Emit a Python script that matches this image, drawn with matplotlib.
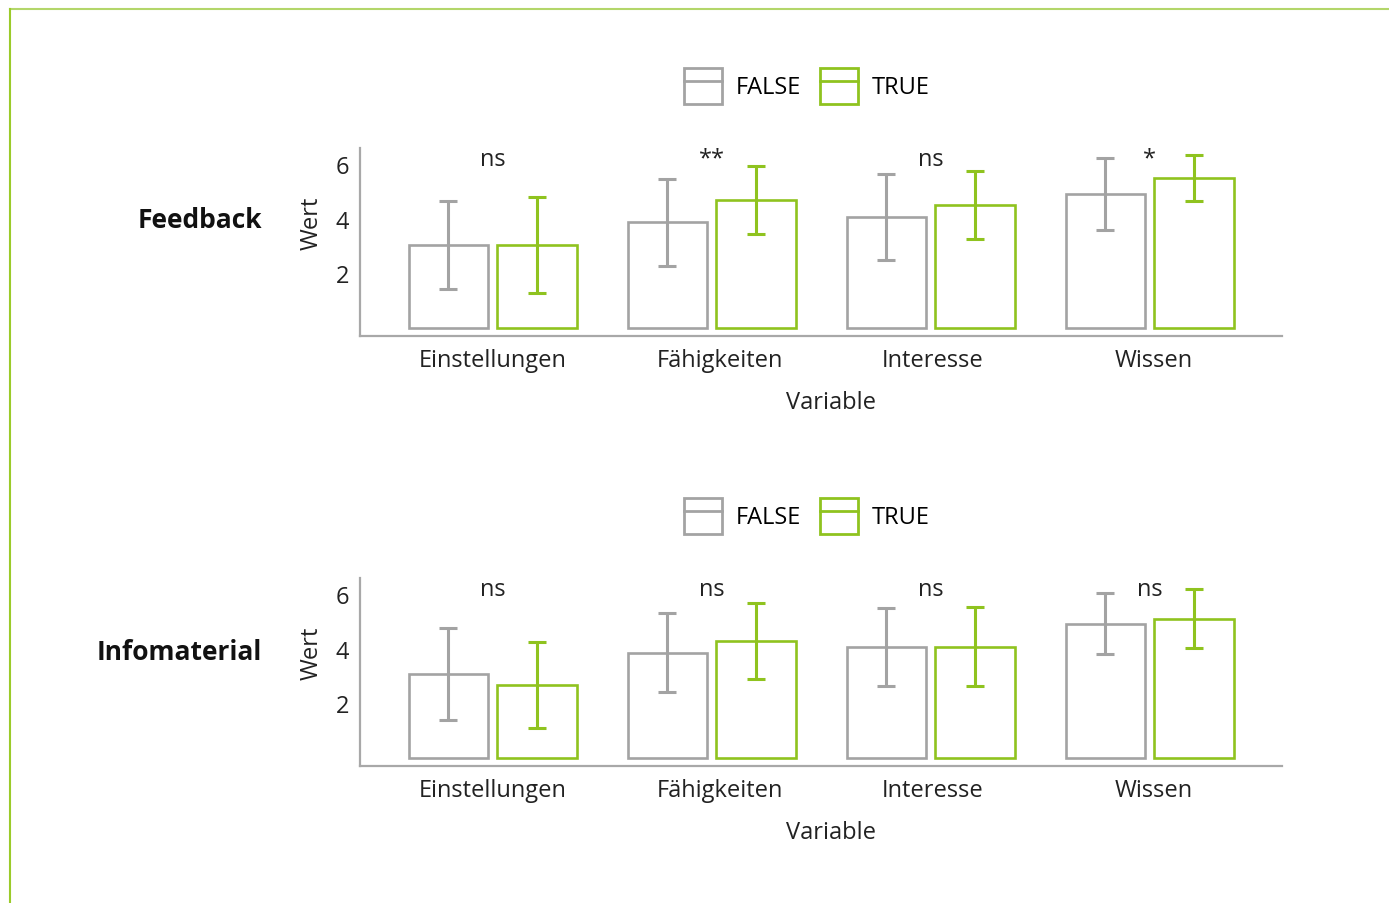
import numpy as np
import matplotlib
matplotlib.use("Agg")
import matplotlib.pyplot as plt
import matplotlib.transforms as mtransforms
from matplotlib.patches import Patch
from matplotlib.lines import Line2D
from matplotlib.legend_handler import HandlerTuple

plt.rcParams['font.family'] = ['Open Sans', 'DejaVu Sans']

# --- data -------------------------------------------------------
variables = ["Einstellungen", "Fähigkeiten", "Interesse", "Wissen"]
groups = ["FALSE", "TRUE"]

fb_false = [3.05, 3.87, 4.07, 4.92]
fb_false_err = [1.62, 1.60, 1.58, 1.33]
fb_true = [3.05, 4.70, 4.51, 5.50]
fb_true_err = [1.76, 1.25, 1.25, 0.83]
fb_sig = ["ns", "**", "ns", "*"]

im_false = [3.08, 3.85, 4.07, 4.92]
im_false_err = [1.70, 1.45, 1.43, 1.12]
im_true = [2.68, 4.29, 4.07, 5.10]
im_true_err = [1.58, 1.41, 1.45, 1.08]
im_sig = ["ns", "ns", "ns", "ns"]

panels = [
    ("Feedback", fb_false, fb_false_err, fb_true, fb_true_err, fb_sig),
    ("Infomaterial", im_false, im_false_err, im_true, im_true_err, im_sig),
]

gray = "#a3a3a3"
green = "#8fc31f"
colors = [gray, green]

W, H = 1389, 904
fig = plt.figure(figsize=(W / 100, H / 100), dpi=100)

# frame lines (green border, top and left)
fig.add_artist(Line2D([10 / W, 1], [1 - 10 / H, 1 - 10 / H], color="#b3d66a", lw=1.5))
fig.add_artist(Line2D([10 / W, 10 / W], [0, 1 - 10 / H], color="#9bcb2a", lw=1.5))

ax_boxes = [(149, 337), (579, 767)]
legend_y = [87, 517]
label_y = [221, 653]
# small horizontal nudges of the category labels (px), as in the original
label_shift = [0, 8, 2, 4]

x = np.arange(len(variables))
bw = 0.365
off = 0.203

for i, (name, f, fe, t, te, sig) in enumerate(panels):
    top, bot = ax_boxes[i]
    ax = fig.add_axes([360 / W, 1 - bot / H, 922 / W, (bot - top) / H])

    for vals, errs, c, sgn in [(f, fe, gray, -1), (t, te, green, 1)]:
        ax.bar(x + sgn * off, vals, width=bw, facecolor="white",
               edgecolor=c, linewidth=1.9)
        ax.errorbar(x + sgn * off, vals, yerr=errs, fmt="none", ecolor=c,
                    elinewidth=2.2, capsize=6.5, capthick=2.2)

    for xi, s in zip(x, sig):
        ax.text(xi, 6.2, s, ha="center", va="center", fontsize=17, color="#222222")

    ax.set_xlim(-0.607, 3.603)
    ax.set_ylim(-0.3, 6.6)
    ax.set_yticks([2, 4, 6])
    ax.set_xticks(x)
    ax.set_xticklabels(variables)
    ax.tick_params(length=0, labelsize=17, colors="#222222")
    ax.tick_params(axis="x", pad=9)
    ax.tick_params(axis="y", pad=8)
    for lab, dx in zip(ax.get_xticklabels(), label_shift):
        lab.set_transform(lab.get_transform() +
                          mtransforms.ScaledTranslation(dx / 100, 0, fig.dpi_scale_trans))
    for sp in ["top", "right"]:
        ax.spines[sp].set_visible(False)
    for sp in ["left", "bottom"]:
        ax.spines[sp].set_color("#a8a8a8")
        ax.spines[sp].set_linewidth(1.6)
    ax.set_xlabel("Variable", fontsize=17, color="#222222")
    ax.set_ylabel("Wert", fontsize=17, color="#222222")
    ax.xaxis.set_label_coords(0.511, -0.285)
    ax.yaxis.set_label_coords(-0.039, 0.606)

    fig.text(262 / W, 1 - label_y[i] / H, name, ha="right", va="center",
             fontsize=19, fontweight="bold", color="#111111")

    handles = []
    for c in colors:
        handles.append((Patch(facecolor="white", edgecolor=c, linewidth=2),
                        Line2D([0], [0], color=c, lw=2)))
    fig.legend(handles, groups, loc="center",
               bbox_to_anchor=(807 / W, 1 - legend_y[i] / H),
               ncol=2, frameon=False, fontsize=17,
               handler_map={tuple: HandlerTuple(ndivide=1)},
               handlelength=1.6, handleheight=2.0, handletextpad=0.6,
               columnspacing=0.8)

fig.savefig("out.png", dpi=100)
